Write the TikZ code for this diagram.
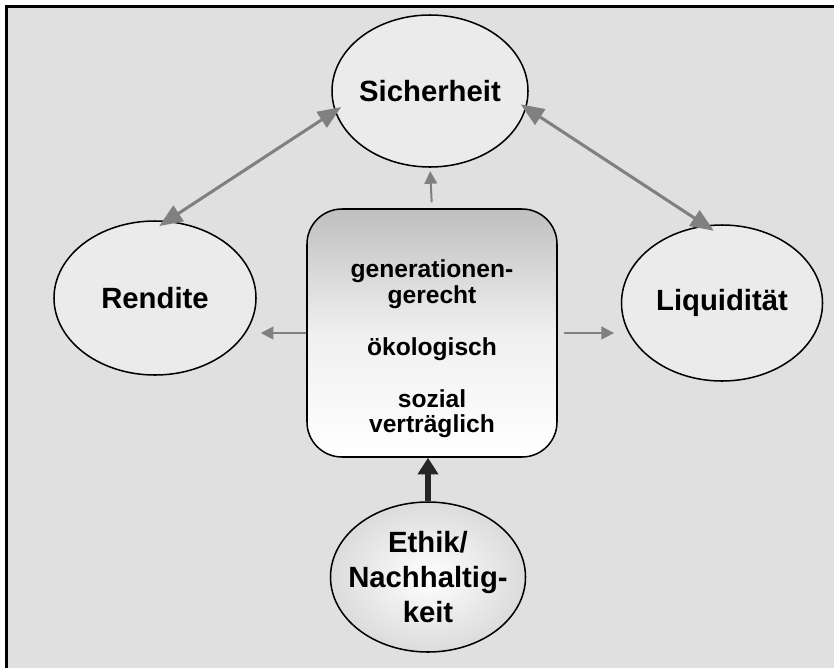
\documentclass[tikz,border=0pt]{standalone}
\usepackage{fontspec}
\setmainfont{Liberation Sans}
\usetikzlibrary{arrows.meta,shapes.geometric}

\definecolor{bggray}{HTML}{E0E0E0}
\definecolor{goalfill}{HTML}{EBEBEB}
\definecolor{arrowgray}{HTML}{808080}

\begin{document}
\begin{tikzpicture}[
  x=0.3mm,y=-0.3mm,
  goal/.style={ellipse,draw,line width=1.3pt,fill=goalfill,inner sep=0pt},
  goaltext/.style={inner sep=0pt,font=\bfseries\fontsize{25}{28}\selectfont},
  kernbox/.style={draw,line width=1.3pt,rounded corners=10.5mm,
    top color=gray!50,bottom color=white,middle color=gray!12,
    minimum width=75mm,minimum height=74.4mm},
  pair/.style={{Triangle[length=7mm,width=5.5mm]}-{Triangle[length=7mm,width=5.5mm]},
    color=arrowgray,line width=2.6pt},
  push/.style={-{Triangle[length=3.8mm,width=3.8mm]},color=arrowgray,line width=1.7pt},
  base/.style={-{Triangle[length=5mm,width=6mm]},line width=4.5pt,black!85}
]
  \useasboundingbox (0,0) rectangle (834,668);
  \fill[white] (0,0) rectangle (834,668);
  \fill[bggray] (6.5,6.5) rectangle (834,668);
  \draw[line width=0.9mm] (6.5,668) -- (6.5,6.5) -- (834,6.5);

  \node[goal,minimum width=58.8mm,minimum height=45.6mm] (sich) at (430,91) {};
  \node[goaltext] (sichtext) at (sich.center) {Sicherheit};
  \node[goal,minimum width=60.6mm,minimum height=46.2mm] (rend) at (155,298) {};
  \node[goaltext] (rendtext) at (rend.center) {Rendite};
  \node[goal,minimum width=60.3mm,minimum height=46.8mm] (liqu) at (722,303) {};
  \node[goaltext] (liqutext) at (liqu.center) {Liquidität};
  \node[kernbox] (kern) at (432,333) {};
  \node[align=center,font=\bfseries\fontsize{21}{21.5}\selectfont] (kerntext) at (432,349)
    {generationen-\\gerecht\\[23pt]ökologisch\\[23pt]sozial\\verträglich};
  \node[ellipse,draw,line width=1.3pt,inner sep=0pt,shading=radial,inner color=white,
    outer color=gray!28,minimum width=58.5mm,minimum height=45mm] (ethik) at (428,577) {};
  \node[align=center,font=\bfseries\fontsize{25}{29.5}\selectfont] (ethiktext) at (ethik.center)
    {Ethik/\\Nachhaltig-\\keit};

  % Zielbeziehungen
  \draw[pair,shorten <=-2.3mm,shorten >=-2.9mm] (sich.192) -- (rend.81);
  \draw[pair,shorten <=-2mm,shorten >=-3mm] (sich.350) -- (liqu.102);

  % Einfluss des Kerns
  \draw[push,shorten <=1.8mm,shorten >=1mm] (kern.north) -- (sich.south);
  \draw[push,shorten >=1.2mm] (kern.west) -- (kern.west -| rend.east);
  \draw[push,shorten <=2mm,shorten >=2mm] (kern.east) -- (kern.east -| liqu.west);
  \draw[base] (ethik.north) -- (ethik.north |- kern.south);
\end{tikzpicture}
\end{document}
